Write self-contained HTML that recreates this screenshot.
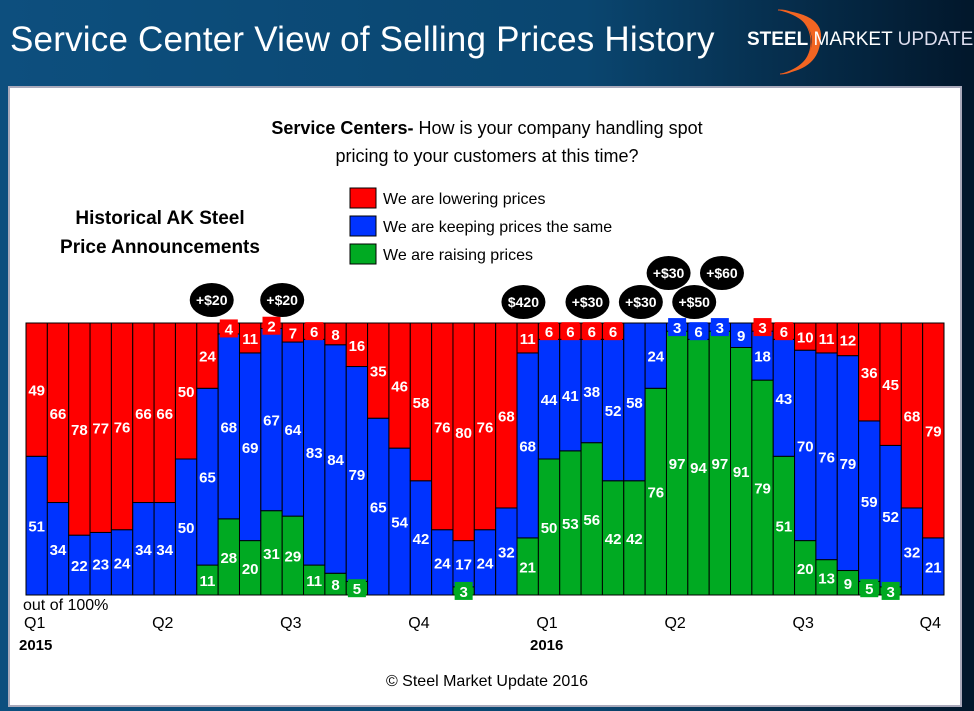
<!DOCTYPE html>
<html><head><meta charset="utf-8"><style>
body{margin:0;width:974px;height:711px;overflow:hidden;font-family:"Liberation Sans",sans-serif;background:linear-gradient(90deg,#0d4f7e 0%,#0a4670 60%,#02172b 100%);position:relative}
.t{position:absolute;white-space:nowrap}
</style></head><body>
<div class="t" style="left:10px;top:20px;font-size:35px;color:#fff;letter-spacing:0.2px">Service Center View of Selling Prices History</div>
<svg style="position:absolute;left:770px;top:4px" width="60" height="72"><path d="M8 6 A32 32 0 0 1 10 70 A30 30 0 0 0 8 6Z" fill="#f05a1a" stroke="#f05a1a" stroke-width="1"/><path d="M8 6 Q58 10 50 40 Q46 66 10 70 Q40 62 42 38 Q42 14 8 6Z" fill="#f26522"/></svg>
<div class="t" style="left:747px;top:29px;font-size:19px;color:#fff"><span style="font-weight:bold">STEEL</span> MARKET <span style="color:#dde">UPDATE</span></div>
<div style="position:absolute;left:8px;top:86px;width:950px;height:617px;background:#fff;border:2px solid #aab"></div>
<div class="t" style="left:0;width:974px;text-align:center;top:114px;font-size:18px;line-height:28px;color:#000;white-space:normal"><b>Service Centers-</b> How is your company handling spot<br>pricing to your customers at this time?</div>
<div class="t" style="left:40px;width:240px;text-align:center;top:204px;font-size:19px;line-height:29px;font-weight:bold">Historical AK Steel<br>Price Announcements</div>
<svg width="974" height="711" style="position:absolute;left:0;top:0" id="c" font-family="Liberation Sans, sans-serif"></svg>
<script>
const lower=[49,66,78,77,76,66,66,50,24,4,11,2,7,6,8,16,35,46,58,76,80,76,68,11,6,6,6,6,0,0,0,0,0,0,3,6,10,11,12,36,45,68,79];
const same=[51,34,22,23,24,34,34,50,65,68,69,67,64,83,84,79,65,54,42,24,17,24,32,68,44,41,38,52,58,24,3,6,3,9,18,43,70,76,79,59,52,32,21];
const raise=[0,0,0,0,0,0,0,0,11,28,20,31,29,11,8,5,0,0,0,0,3,0,0,21,50,53,56,42,42,76,97,94,97,91,79,51,20,13,9,5,3,0,0];
const quarters=[["Q1",0],["Q2",6],["Q3",12],["Q4",18],["Q1",24],["Q2",30],["Q3",36],["Q4",42]];
const announcements=[["+$20",8.7,300],["+$20",12,300],["$420",23.3,302],["+$30",26.3,302],["+$30",28.8,302],["+$30",30.1,273],["+$50",31.3,302],["+$60",32.6,273]];
const svg=document.getElementById('c');const NS='http://www.w3.org/2000/svg';
const L=26,R=944,T=323,B=595,n=lower.length,bw=(R-L)/n;
const x=i=>L+i*bw, y=v=>B-v*(B-T)/100;
function mk(t,a){const e=document.createElementNS(NS,t);for(const k in a)e.setAttribute(k,a[k]);svg.appendChild(e);return e;}
const cols=['#00aa22','#0033ff','#ff0000'];
const labels=[];
for(let i=0;i<n;i++){
 const segs=[raise[i],same[i],lower[i]];let base=0;
 segs.forEach((v,k)=>{if(v<=0)return;
  const r=mk('rect',{x:x(i),y:y(base+v),width:bw,height:y(base)-y(base+v),fill:cols[k],stroke:'#000','stroke-width':1});
  
  
  labels.push([i,base+v/2,v,k]);base+=v;});
}
labels.forEach(([i,m,v,k])=>{const cy=y(m);const h=(v*(B-T)/100);
 if(h<20){const bx=mk('rect',{x:x(i)+bw/2-9,y:cy-9,width:18,height:18,fill:cols[k]});
  
  }
 const t=mk('text',{x:x(i)+bw/2,y:cy+6,'text-anchor':'middle','font-size':15,'font-weight':'bold',fill:'#fff'});
 
 
 t.textContent=v;});
quarters.forEach(([q,i])=>{const t=mk('text',{x:x(i)+(i==42?-3:-2),y:628,'font-size':16,fill:'#000'});
 
 
 t.textContent=q;});
[["2015",19],["2016",530]].forEach(([s,px])=>{const t=mk('text',{x:px,y:650,'font-size':15,'font-weight':'bold'});
 
 
 t.textContent=s;});
const o=mk('text',{x:23,y:610,'font-size':16});o.textContent='out of 100%';


announcements.forEach(([s,i,cy])=>{const cx=x(i);
 const e=mk('ellipse',{cx:cx,cy:cy,rx:22,ry:17,fill:'#000'});
 
 
 const t=mk('text',{x:cx,y:cy+5,'text-anchor':'middle','font-size':14,'font-weight':'bold',fill:'#fff'});
 
 
 t.textContent=s;});
[["We are lowering prices",'#ff0000',198],["We are keeping prices the same",'#0033ff',226],["We are raising prices",'#00aa22',254]].forEach(([s,c,cy])=>{
 const r=mk('rect',{x:350,y:cy-10,width:26,height:20,fill:c,stroke:'#000'});
 
 
 const t=mk('text',{x:383,y:cy+6,'font-size':16});
 
 
 t.textContent=s;});
const cp=mk('text',{x:487,y:686,'text-anchor':'middle','font-size':16});cp.textContent='© Steel Market Update 2016';


</script>
</body></html>
